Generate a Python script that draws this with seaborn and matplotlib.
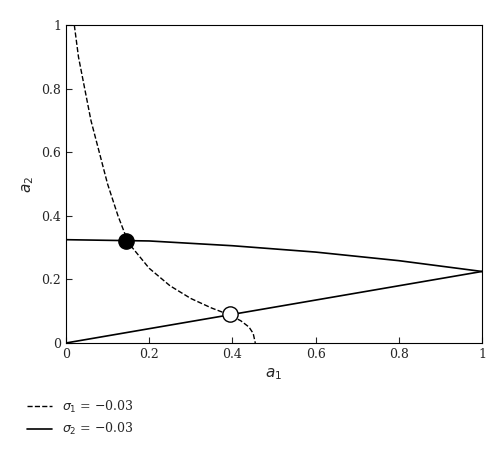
import matplotlib
matplotlib.use("Agg")
import matplotlib.pyplot as plt
import seaborn as sns
import pandas as pd

sns.set_style("white")
plt.rcParams['font.family'] = ['DejaVu Serif']

dash_a1 = [0.02,0.03,0.045,0.06,0.08,0.10,0.125,0.15,0.20,0.25,0.30,0.35,0.39,0.42,0.44,0.45,0.455]
dash_a2 = [1.0,0.9,0.8,0.7,0.6,0.5,0.4,0.315,0.235,0.18,0.14,0.11,0.09,0.07,0.05,0.03,0.0]
up_a1 = [0,0.2,0.4,0.6,0.8,1.0]
up_a2 = [0.325,0.321,0.306,0.286,0.259,0.225]
low_a1 = [0,1.0]
low_a2 = [0,0.225]
stable = (0.145, 0.32)
unstable = (0.395, 0.09)

fig = plt.figure(figsize=(5,4.66), dpi=100)
ax = fig.add_axes([0.132,0.264,0.832,0.682])
sns.lineplot(x=dash_a1, y=dash_a2, ax=ax, color='black', lw=1, linestyle='--', sort=False, label=r'$\sigma_1$ = −0.03')
sns.lineplot(x=up_a1, y=up_a2, ax=ax, color='black', lw=1.2, sort=False, label=r'$\sigma_2$ = −0.03')
sns.lineplot(x=low_a1, y=low_a2, ax=ax, color='black', lw=1.2, sort=False)
ax.plot(*stable, 'o', color='black', ms=11, zorder=5)
ax.plot(*unstable, 'o', mfc='white', mec='black', ms=11, zorder=5)
ax.set_xlim(0,1); ax.set_ylim(0,1)
ax.set_xticks([0,0.2,0.4,0.6,0.8,1]); ax.set_yticks([0,0.2,0.4,0.6,0.8,1])
ax.set_xticklabels(['0','0.2','0.4','0.6','0.8','1'])
ax.set_yticklabels(['0','0.2','0.4','0.6','0.8','1'])
ax.tick_params(direction='in', length=4, labelsize=9, left=True, bottom=True)
ax.set_xlabel(r'$a_1$', fontsize=11)
ax.set_ylabel(r'$a_2$', fontsize=11)
for s in ax.spines.values():
    s.set_color('black'); s.set_linewidth(0.8)
ax.legend(loc='upper left', bbox_to_anchor=(-0.12,-0.14), frameon=False, fontsize=9, handlelength=2)
fig.savefig('out.png', dpi=100)
